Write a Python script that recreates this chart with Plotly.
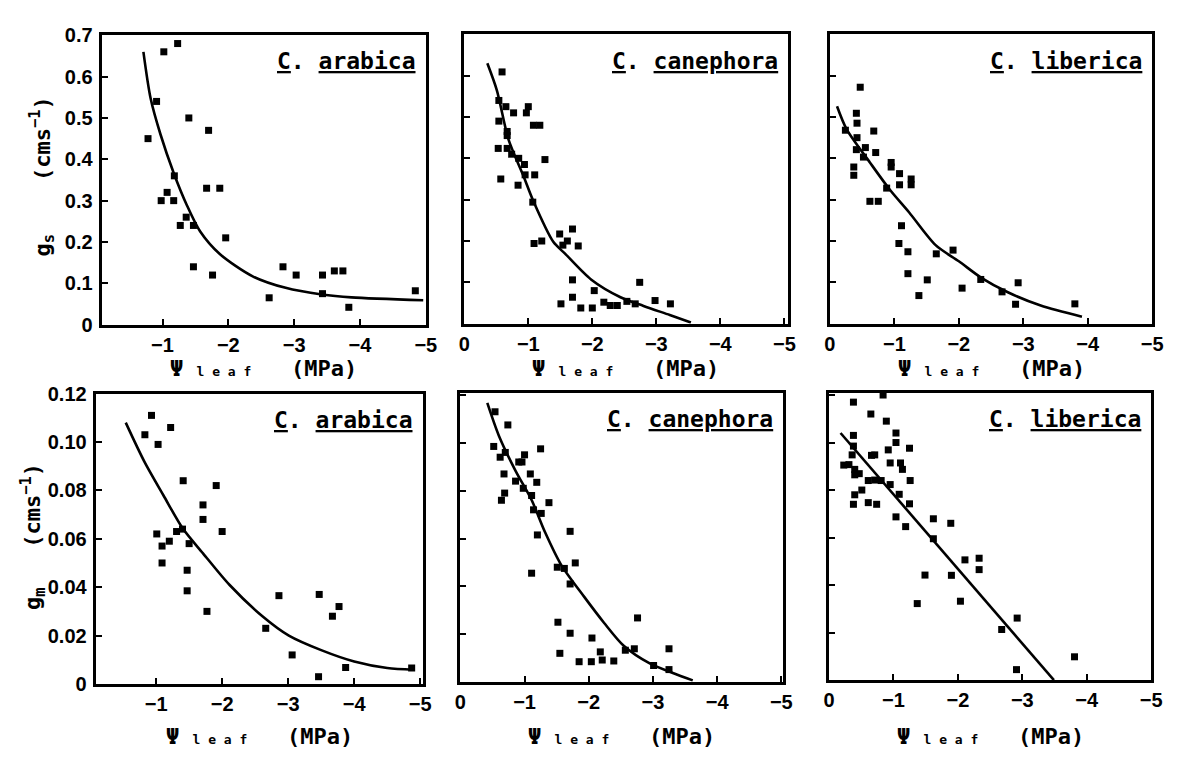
import plotly.graph_objects as go

W, H = 1178, 761

# ---------------- data: leaf water potential (MPa) vs conductance (cm s-1) ----------------
species = ["arabica", "canephora", "liberica"]

x_tick_vals = [0, -1, -2, -3, -4, -5]
x_tick_text = ["0", "−1", "−2", "−3", "−4", "−5"]
gs_tick_vals = [0, 0.1, 0.2, 0.3, 0.4, 0.5, 0.6, 0.7]
gs_tick_text = ["0", "0.1", "0.2", "0.3", "0.4", "0.5", "0.6", "0.7"]
gm_tick_vals = [0, 0.02, 0.04, 0.06, 0.08, 0.10, 0.12]
gm_tick_text = ["0", "0.02", "0.04", "0.06", "0.08", "0.10", "0.12"]

# stomatal conductance gs
gs_arabica_psi = [-0.78, -0.91, -1.02, -1.23, -0.98, -1.07, -1.17, -1.18, -1.27, -1.36, -1.47,
                  -1.40, -1.70, -1.47, -1.67, -1.87, -1.76, -1.96, -2.62, -2.83, -3.03, -3.43,
                  -3.43, -3.61, -3.74, -3.83, -4.84]
gs_arabica_g = [0.45, 0.54, 0.66, 0.68, 0.30, 0.32, 0.30, 0.36, 0.24, 0.26, 0.24,
                0.50, 0.47, 0.14, 0.33, 0.33, 0.12, 0.21, 0.065, 0.14, 0.12, 0.12,
                0.075, 0.13, 0.13, 0.042, 0.082]
gs_arabica_fit_psi = [-0.71, -0.82, -0.97, -1.17, -1.37, -1.57, -1.87, -2.37, -2.87, -3.42, -3.87, -4.96]
gs_arabica_fit_g = [0.66, 0.547, 0.46, 0.367, 0.289, 0.226, 0.171, 0.117, 0.089, 0.073, 0.066, 0.059]

gs_canephora_psi = [-0.59, -0.54, -0.65, -0.77, -1.00, -0.97, -1.08, -1.18, -0.54, -0.67, -0.67,
                    -0.53, -0.67, -0.74, -0.85, -0.94, -1.26, -0.57, -0.84, -0.95, -1.10, -1.07,
                    -1.09, -1.21, -1.49, -1.69, -1.61, -1.54, -1.78, -1.69, -1.69, -1.51, -1.82,
                    -2.00, -2.03, -2.18, -2.28, -2.39, -2.54, -2.67, -2.74, -2.98, -3.22]
gs_canephora_g = [0.609, 0.54, 0.525, 0.51, 0.525, 0.51, 0.48, 0.48, 0.49, 0.465, 0.455,
                  0.424, 0.424, 0.41, 0.40, 0.385, 0.397, 0.35, 0.335, 0.36, 0.36, 0.294,
                  0.194, 0.20, 0.217, 0.229, 0.20, 0.19, 0.188, 0.106, 0.064, 0.048, 0.038,
                  0.038, 0.08, 0.052, 0.044, 0.044, 0.054, 0.048, 0.10, 0.056, 0.048]
gs_canephora_fit_psi = [-0.36, -0.51, -0.69, -0.92, -1.08, -1.39, -1.57, -1.98, -2.44, -2.80, -3.21, -3.54]
gs_canephora_fit_g = [0.63, 0.564, 0.446, 0.359, 0.296, 0.198, 0.17, 0.107, 0.064, 0.043, 0.021, 0.003]

gs_liberica_psi = [-0.47, -0.41, -0.42, -0.24, -0.42, -0.68, -0.41, -0.55, -0.52, -0.71, -0.37,
                   -0.37, -0.95, -0.95, -1.08, -1.08, -1.26, -1.26, -0.88, -0.62, -0.75, -1.11,
                   -1.07, -1.21, -1.21, -1.38, -1.51, -1.65, -1.91, -2.05, -2.34, -2.67, -2.92,
                   -2.88, -3.80]
gs_liberica_g = [0.572, 0.509, 0.485, 0.468, 0.45, 0.466, 0.421, 0.426, 0.403, 0.414, 0.379,
                 0.359, 0.39, 0.379, 0.363, 0.336, 0.35, 0.336, 0.328, 0.296, 0.296, 0.237,
                 0.194, 0.174, 0.121, 0.068, 0.106, 0.169, 0.178, 0.086, 0.107, 0.077, 0.099,
                 0.047, 0.048]
gs_liberica_fit_psi = [-0.11, -0.26, -0.62, -0.93, -1.23, -1.64, -2.00, -2.35, -2.76, -3.27, -3.91]
gs_liberica_fit_g = [0.526, 0.47, 0.39, 0.324, 0.269, 0.19, 0.151, 0.111, 0.076, 0.044, 0.017]

# mesophyll conductance gm
gm_arabica_psi = [-0.93, -0.83, -1.03, -1.22, -1.41, -1.71, -1.71, -1.91, -2.00, -1.01, -1.09,
                  -1.20, -1.31, -1.40, -1.50, -1.09, -1.47, -1.47, -1.77, -2.66, -2.86, -3.06,
                  -3.47, -3.46, -3.67, -3.77, -3.87, -4.87]
gm_arabica_g = [0.111, 0.103, 0.099, 0.106, 0.084, 0.074, 0.068, 0.082, 0.063, 0.062, 0.057,
                0.059, 0.063, 0.064, 0.058, 0.050, 0.047, 0.0385, 0.030, 0.023, 0.0365, 0.012,
                0.037, 0.003, 0.028, 0.032, 0.0068, 0.0066]
gm_arabica_fit_psi = [-0.54, -0.82, -1.11, -1.41, -1.71, -2.11, -2.61, -3.01, -3.50, -4.0, -4.5, -4.9]
gm_arabica_fit_g = [0.108, 0.092, 0.078, 0.064, 0.054, 0.041, 0.028, 0.020, 0.014, 0.0093, 0.0066, 0.0059]

gm_canephora_psi = [-0.54, -0.74, -1.25, -0.52, -0.62, -0.70, -1.00, -0.96, -0.91, -0.68, -0.86,
                    -1.09, -1.19, -0.69, -0.64, -0.98, -1.11, -1.38, -1.14, -1.26, -1.20, -1.71,
                    -1.11, -1.51, -1.62, -1.79, -1.71, -1.52, -1.71, -1.55, -2.05, -1.85, -2.04,
                    -2.18, -2.21, -2.39, -2.57, -2.71, -2.76, -3.01, -3.25, -3.25]
gm_canephora_g = [0.113, 0.1075, 0.0975, 0.0985, 0.094, 0.096, 0.095, 0.092, 0.092, 0.087, 0.084,
                  0.087, 0.0835, 0.079, 0.076, 0.081, 0.078, 0.075, 0.072, 0.0705, 0.0615, 0.063,
                  0.0455, 0.048, 0.0475, 0.0498, 0.041, 0.025, 0.0204, 0.012, 0.0184, 0.0085, 0.0085,
                  0.0126, 0.0092, 0.0088, 0.0133, 0.0139, 0.0268, 0.0069, 0.0139, 0.0052]
gm_canephora_fit_psi = [-0.42, -0.60, -0.86, -1.11, -1.32, -1.57, -1.93, -2.24, -2.54, -2.95, -3.31, -3.62]
gm_canephora_fit_g = [0.1167, 0.103, 0.0883, 0.0761, 0.0626, 0.049, 0.0356, 0.0247, 0.0153, 0.0078, 0.0038, 0.0007]

gm_liberica_psi = [-0.22, -0.84, -0.38, -0.65, -0.89, -1.04, -1.04, -0.38, -0.38, -1.25, -0.92,
                   -0.71, -0.66, -0.36, -0.23, -0.31, -0.40, -0.40, -0.47, -0.95, -1.11, -1.14,
                   -0.61, -0.71, -0.81, -1.26, -0.95, -0.51, -0.40, -1.09, -0.38, -0.61, -0.74,
                   -1.25, -1.04, -1.19, -1.62, -1.89, -1.62, -2.11, -2.33, -2.33, -1.49, -1.90,
                   -1.37, -2.04, -2.68, -2.92, -2.91, -3.81]
gm_liberica_g = [0.123, 0.120, 0.117, 0.112, 0.109, 0.104, 0.100, 0.103, 0.0985, 0.0976, 0.0969,
                 0.0948, 0.0946, 0.0948, 0.0905, 0.0907, 0.0887, 0.0864, 0.0869, 0.0914, 0.0914, 0.0887,
                 0.084, 0.0842, 0.084, 0.084, 0.0823, 0.080, 0.078, 0.0782, 0.074, 0.0747, 0.074,
                 0.0742, 0.0687, 0.0646, 0.0679, 0.066, 0.0595, 0.0506, 0.0513, 0.0465, 0.0442, 0.0441,
                 0.0322, 0.0332, 0.0213, 0.0261, 0.0044, 0.0098]
gm_liberica_fit_psi = [-0.18, -3.49]
gm_liberica_fit_g = [0.104, 0.0]

# ---------------- layout of the six panels (pixel boxes) ----------------
panels = [
    dict(box=(97, 426, 25, 323), xr=[-0.075, -5.0], yr=[0, 0.7],
         pts=(gs_arabica_psi, gs_arabica_g), fit=(gs_arabica_fit_psi, gs_arabica_fit_g),
         sp=species[0], row=0, first=True),
    dict(box=(465, 793, 24, 322), xr=[0, -5.05], yr=[0, 0.7],
         pts=(gs_canephora_psi, gs_canephora_g), fit=(gs_canephora_fit_psi, gs_canephora_fit_g),
         sp=species[1], row=0, first=False),
    dict(box=(836, 1163, 24, 322), xr=[0, -5.0], yr=[0, 0.7],
         pts=(gs_liberica_psi, gs_liberica_g), fit=(gs_liberica_fit_psi, gs_liberica_fit_g),
         sp=species[2], row=0, first=False),
    dict(box=(91, 423, 394, 693), xr=[-0.085, -5.04], yr=[0, 0.12],
         pts=(gm_arabica_psi, gm_arabica_g), fit=(gm_arabica_fit_psi, gm_arabica_fit_g),
         sp=species[0], row=1, first=True),
    dict(box=(461, 788, 393, 691), xr=[0, -5.02], yr=[0, 0.121],
         pts=(gm_canephora_psi, gm_canephora_g), fit=(gm_canephora_fit_psi, gm_canephora_fit_g),
         sp=species[1], row=1, first=False),
    dict(box=(835, 1162, 393, 689), xr=[0, -5.0], yr=[0, 0.121],
         pts=(gm_liberica_psi, gm_liberica_g), fit=(gm_liberica_fit_psi, gm_liberica_fit_g),
         sp=species[2], row=1, first=False),
]

TICK_FONT = dict(family="Liberation Sans, Arial, sans-serif", size=20, color="black", weight="bold")
MONO = "DejaVu Sans Mono, Liberation Mono, monospace"

fig = go.Figure()
layout = dict(
    width=W, height=H, autosize=False,
    margin=dict(l=0, r=0, t=0, b=0),
    paper_bgcolor="white", plot_bgcolor="white",
    showlegend=False,
    annotations=[],
)

for i, p in enumerate(panels, start=1):
    l, r, t, b = p["box"]
    xa = "x" if i == 1 else f"x{i}"
    ya = "y" if i == 1 else f"y{i}"
    xs, ys = p["pts"]
    fx, fy = p["fit"]

    fig.add_trace(go.Scatter(
        x=fx, y=fy, xaxis=xa, yaxis=ya, mode="lines",
        line=dict(color="black", width=2.6, shape="spline", smoothing=0.8),
        hoverinfo="skip", cliponaxis=False,
    ))
    fig.add_trace(go.Scatter(
        x=xs, y=ys, xaxis=xa, yaxis=ya, mode="markers",
        marker=dict(symbol="square", size=7, color="black", line=dict(width=0)),
        cliponaxis=False,
    ))

    if p["row"] == 0:
        ytv, ytt = gs_tick_vals, gs_tick_text
    else:
        ytv, ytt = gm_tick_vals, gm_tick_text

    if p["first"]:
        xtv, xtt = x_tick_vals[1:], x_tick_text[1:]
    else:
        xtv, xtt = x_tick_vals, x_tick_text

    axis_common = dict(
        showline=True, linewidth=3, linecolor="black", mirror=True,
        ticks="inside", ticklen=6, tickwidth=2, tickcolor="black",
        showgrid=False, zeroline=False, tickfont=TICK_FONT, fixedrange=True,
    )
    layout[f"xaxis{'' if i == 1 else i}"] = dict(
        domain=[l / W, r / W], range=p["xr"], anchor=ya,
        tickmode="array", tickvals=xtv, ticktext=xtt, **axis_common,
    )
    layout[f"yaxis{'' if i == 1 else i}"] = dict(
        domain=[1 - b / H, 1 - t / H], range=p["yr"], anchor=xa,
        tickmode="array", tickvals=ytv, ticktext=ytt,
        showticklabels=p["first"], ticklabelstandoff=2, **axis_common,
    )

    # species label, underlined
    layout["annotations"].append(dict(
        xref="paper", yref="paper", x=(r - 8) / W, y=1 - (t + 27) / H,
        xanchor="right", yanchor="middle", showarrow=False,
        text=f"<u>C</u>. <u>{p['sp']}</u>",
        font=dict(family=MONO, size=23, color="black", weight="bold"),
    ))
    # x-axis title
    layout["annotations"].append(dict(
        xref="paper", yref="paper", x=(l + r) / 2 / W,
        y=1 - (368 if p["row"] == 0 else 747) / H,
        xanchor="center", yanchor="middle", showarrow=False,
        text="Ψ <span style='font-size:13px'>l e a f</span>   (MPa)",
        font=dict(family=MONO, size=22, color="black", weight="bold"),
    ))

# y-axis titles
layout["annotations"].append(dict(
    xref="paper", yref="paper", x=37 / W, y=1 - 170 / H, textangle=-90,
    xanchor="center", yanchor="middle", showarrow=False,
    text="g<sub>s</sub>    (cms<sup>−1</sup>)",
    font=dict(family=MONO, size=22, color="black", weight="bold"),
))
layout["annotations"].append(dict(
    xref="paper", yref="paper", x=28 / W, y=1 - 541 / H, textangle=-90,
    xanchor="center", yanchor="middle", showarrow=False,
    text="g<sub>m</sub>   (cms<sup>−1</sup>)",
    font=dict(family=MONO, size=22, color="black", weight="bold"),
))

fig.update_layout(**layout)
fig.write_html(
    "out.html",
    config={"displayModeBar": False},
    post_script="document.body.style.margin='0px';",
)
